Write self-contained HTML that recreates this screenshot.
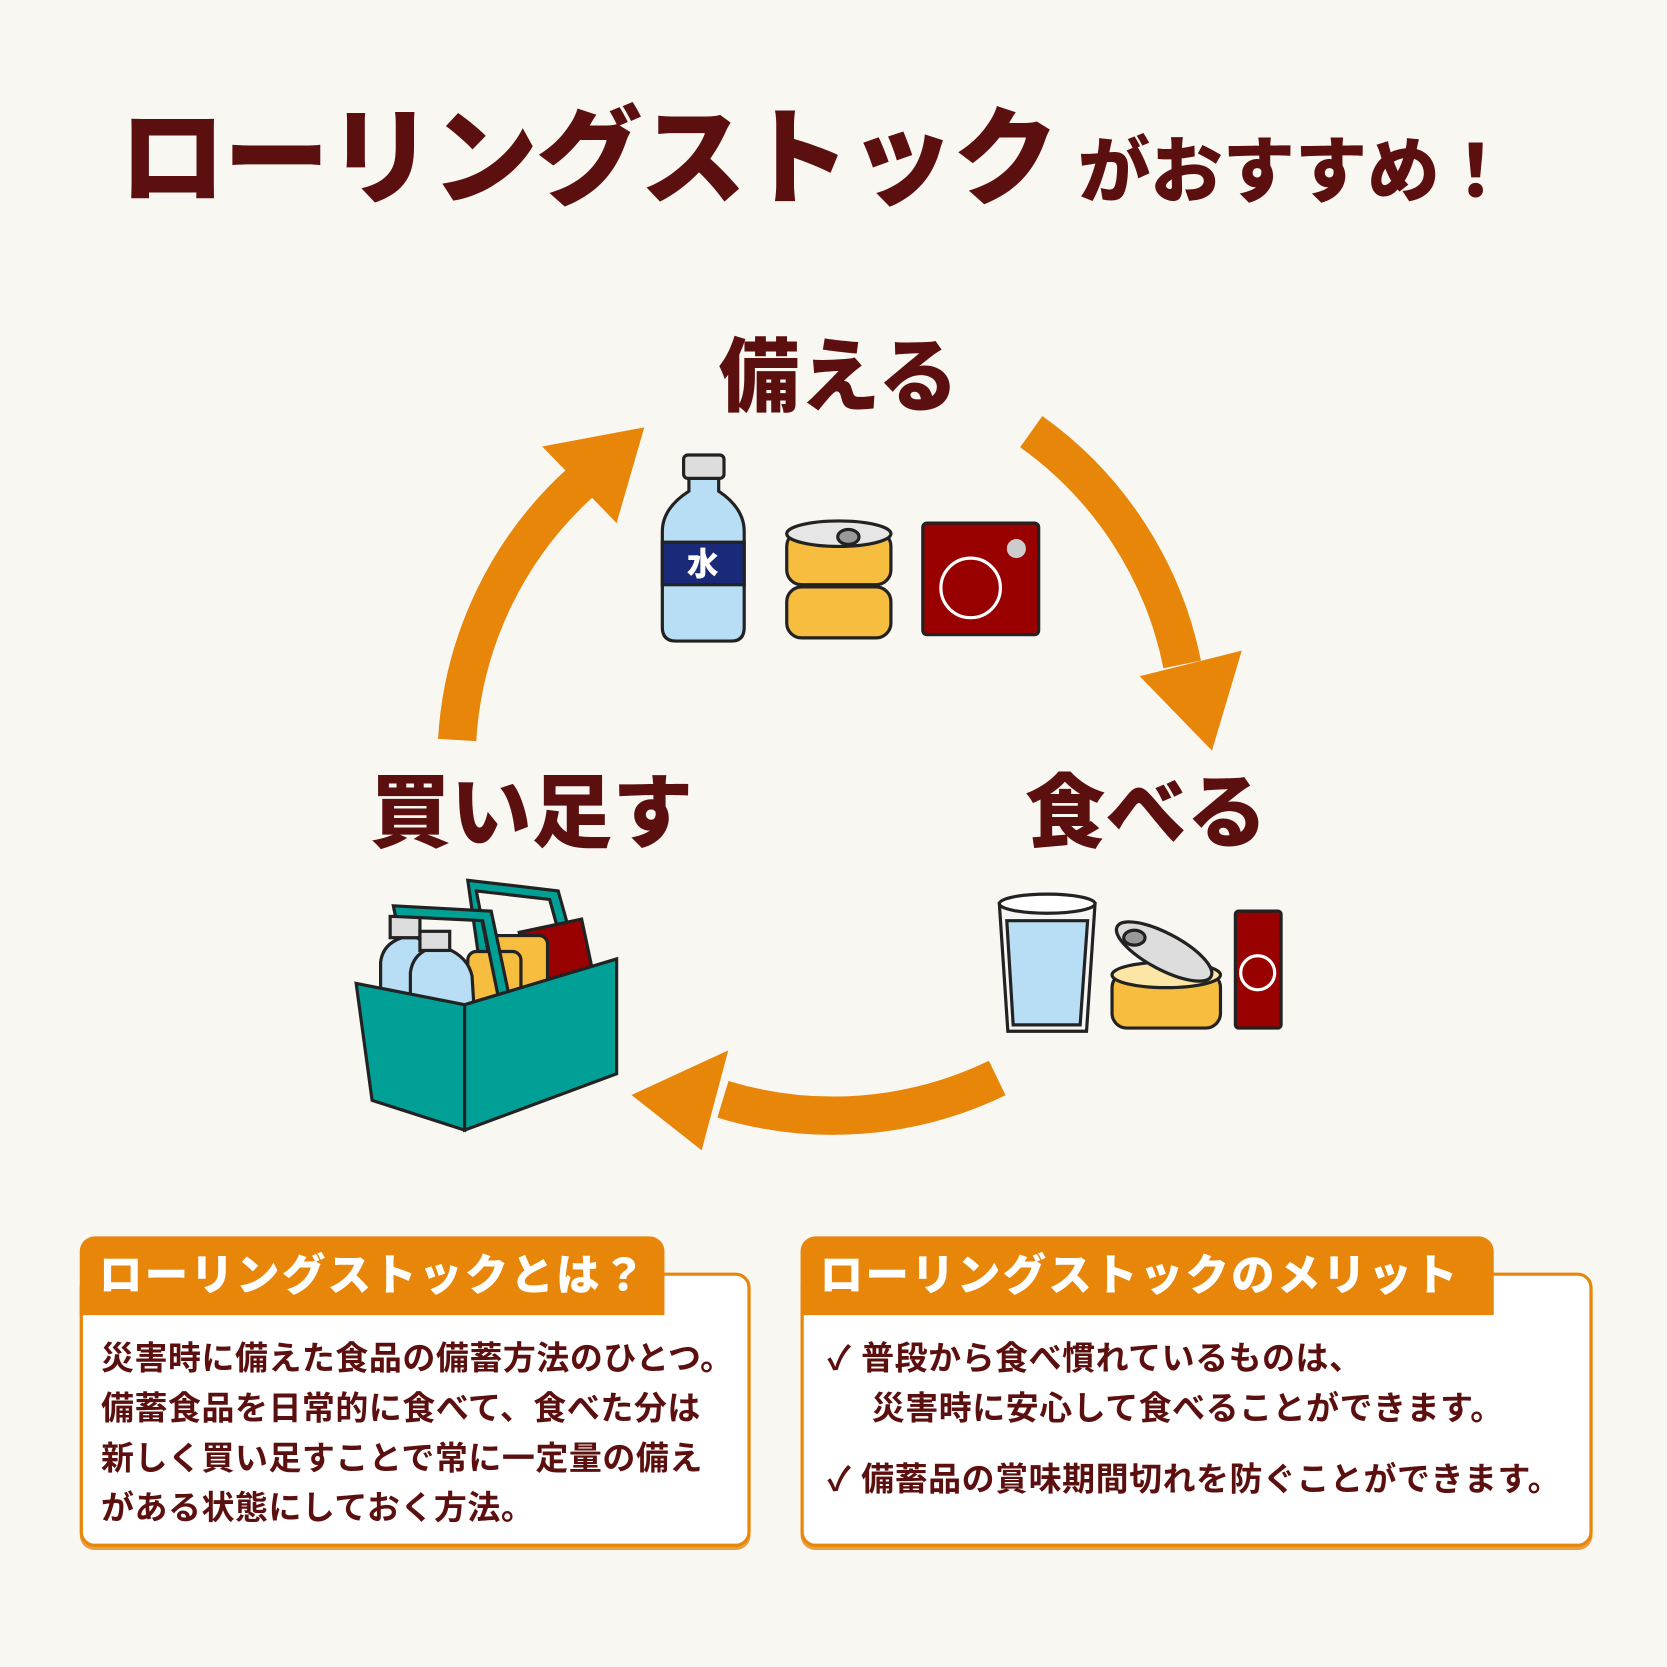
<!DOCTYPE html>
<html><head><meta charset="utf-8"><style>
html,body{margin:0;padding:0;background:#f9f7f2;}
body{width:1667px;height:1667px;overflow:hidden;position:relative;}
#w{position:absolute;left:0;top:0;width:1568px;height:1568px;transform:scale(1.06314);transform-origin:0 0;font-family:"Liberation Sans","Noto Sans CJK JP",sans-serif;color:#5c0f0f;font-weight:900;}
.t{position:absolute;white-space:nowrap;line-height:1;}
.box{position:absolute;background:#fff;border:3px solid #e8860a;border-radius:14px;box-shadow:0 3px 0 #e8a040;}
.tab{position:absolute;background:#e8860a;border-radius:14px 14px 0 0;color:#fff;font-size:41px;line-height:74px;padding-left:18px;box-sizing:border-box;letter-spacing:2px;}
.body{position:absolute;font-size:31px;font-weight:700;line-height:47px;white-space:nowrap;letter-spacing:0.5px;}
</style></head><body><div id="w">
<div class="t" style="left:112px;top:100px;font-size:100px;letter-spacing:-2px;">ローリングストック</div>
<div class="t" style="left:1014px;top:128px;font-size:68px;">がおすすめ！</div>
<div class="t" style="left:676px;top:318px;font-size:76px;">備える</div>
<div class="t" style="left:964px;top:728px;font-size:76px;">食べる</div>
<div class="t" style="left:348px;top:728px;font-size:76px;">買い足す</div>
<svg width="1568" height="1568" style="position:absolute;left:0;top:0">
<g fill="none" stroke="#e8860a" stroke-width="36">
<path d="M430 696 A355 355 0 0 1 548 452"/>
<path d="M970 406 A355 355 0 0 1 1112 625"/>
<path d="M938 1014 A355 355 0 0 1 680 1034"/>
</g>
<g fill="#e8860a">
<polygon points="606,402 510,420 580,492"/>
<polygon points="1140,706 1072,636 1168,612"/>
<polygon points="594,1030 685,988 660,1082"/>
</g>
<g stroke="#222" stroke-width="3">
<rect x="643" y="428" width="38" height="22" rx="4" fill="#ddd"/>
<path d="M648 450 L676 450 L676 462 Q700 478 700 500 L700 590 Q700 603 688 603 L636 603 Q623 603 623 590 L623 500 Q623 478 648 462 Z" fill="#b8def5"/>
<rect x="623" y="510" width="77" height="40" fill="#1a2a78"/>
<rect x="740" y="552" width="98" height="48" rx="14" fill="#f7bd3e"/>
<rect x="740" y="500" width="98" height="50" rx="14" fill="#f7bd3e"/>
<ellipse cx="789" cy="502" rx="49" ry="12" fill="#e6e6e6"/>
<ellipse cx="798" cy="505" rx="10" ry="7" fill="#999"/>
<rect x="868" y="492" width="109" height="105" rx="4" fill="#990000"/>
<circle cx="913" cy="553" r="28" fill="none" stroke="#fff"/>
<circle cx="956" cy="516" r="9" fill="#ccc" stroke="none"/>
<path d="M940 850 L1030 850 L1022 970 L948 970 Z" fill="#f5f5f5"/>
<path d="M947 866 L1023 866 L1016 964 L953 964 Z" fill="#b8def5"/>
<ellipse cx="985" cy="850" rx="45" ry="9" fill="#fff"/>
<rect x="1046" y="915" width="102" height="52" rx="14" fill="#f7bd3e"/>
<ellipse cx="1097" cy="917" rx="51" ry="12" fill="#fbe6a6"/>
<ellipse cx="1095" cy="895" rx="50" ry="17" fill="#ddd" transform="rotate(28 1095 895)"/>
<ellipse cx="1067" cy="882" rx="10" ry="7" fill="#999"/>
<rect x="1162" y="857" width="43" height="110" rx="3" fill="#990000"/>
<circle cx="1183" cy="915" r="16" fill="none" stroke="#fff"/>
<path d="M440 828 L525 838 L548 920 L538 922 L517 846 L448 838 L462 910 L452 912 Z" fill="#00a096"/>
<rect x="495" y="870" width="60" height="75" fill="#990000" transform="rotate(-12 525 905)"/>
<rect x="460" y="880" width="55" height="55" rx="8" fill="#f7bd3e"/>
<rect x="440" y="895" width="50" height="50" rx="8" fill="#f7bd3e"/>
<path d="M358 905 Q360 888 378 882 L392 882 Q408 890 408 905 L408 945 L358 945 Z" fill="#b8def5"/>
<path d="M386 915 Q388 898 404 892 L420 892 Q440 900 444 918 L446 950 L386 950 Z" fill="#b8def5"/>
<rect x="367" y="862" width="28" height="20" fill="#ddd"/>
<rect x="395" y="876" width="28" height="18" fill="#ddd"/>
<path d="M370 852 L462 857 L480 942 L470 944 L454 866 L372 862 Z" fill="#00a096"/>
<path d="M335 925 L437 945 L437 1063 L350 1035 Z" fill="#00a096"/>
<path d="M437 945 L580 902 L580 1010 L437 1063 Z" fill="#00a096"/>
</g>
<text x="661" y="541" font-size="30" fill="#fff" text-anchor="middle" font-weight="900" font-family="Noto Sans CJK JP,sans-serif">水</text>
</svg>
<div class="box" style="left:75px;top:1197px;width:625px;height:252px;"></div>
<div class="tab" style="left:75px;top:1163px;width:550px;height:74px;">ローリングストックとは？</div>
<div class="body" style="left:95px;top:1254px;">災害時に備えた食品の備蓄方法のひとつ。<br>備蓄食品を日常的に食べて、食べた分は<br>新しく買い足すことで常に一定量の備え<br>がある状態にしておく方法。</div>
<div class="box" style="left:753px;top:1197px;width:739px;height:252px;"></div>
<div class="tab" style="left:753px;top:1163px;width:652px;height:74px;">ローリングストックのメリット</div>
<div class="body" style="left:778px;top:1254px;">✓ 普段から食べ慣れているものは、<br><span style="padding-left:42px">災害時に安心して食べることができます。</span></div>
<div class="body" style="left:778px;top:1368px;">✓ 備蓄品の賞味期間切れを防ぐことができます。</div>
</div></body></html>
